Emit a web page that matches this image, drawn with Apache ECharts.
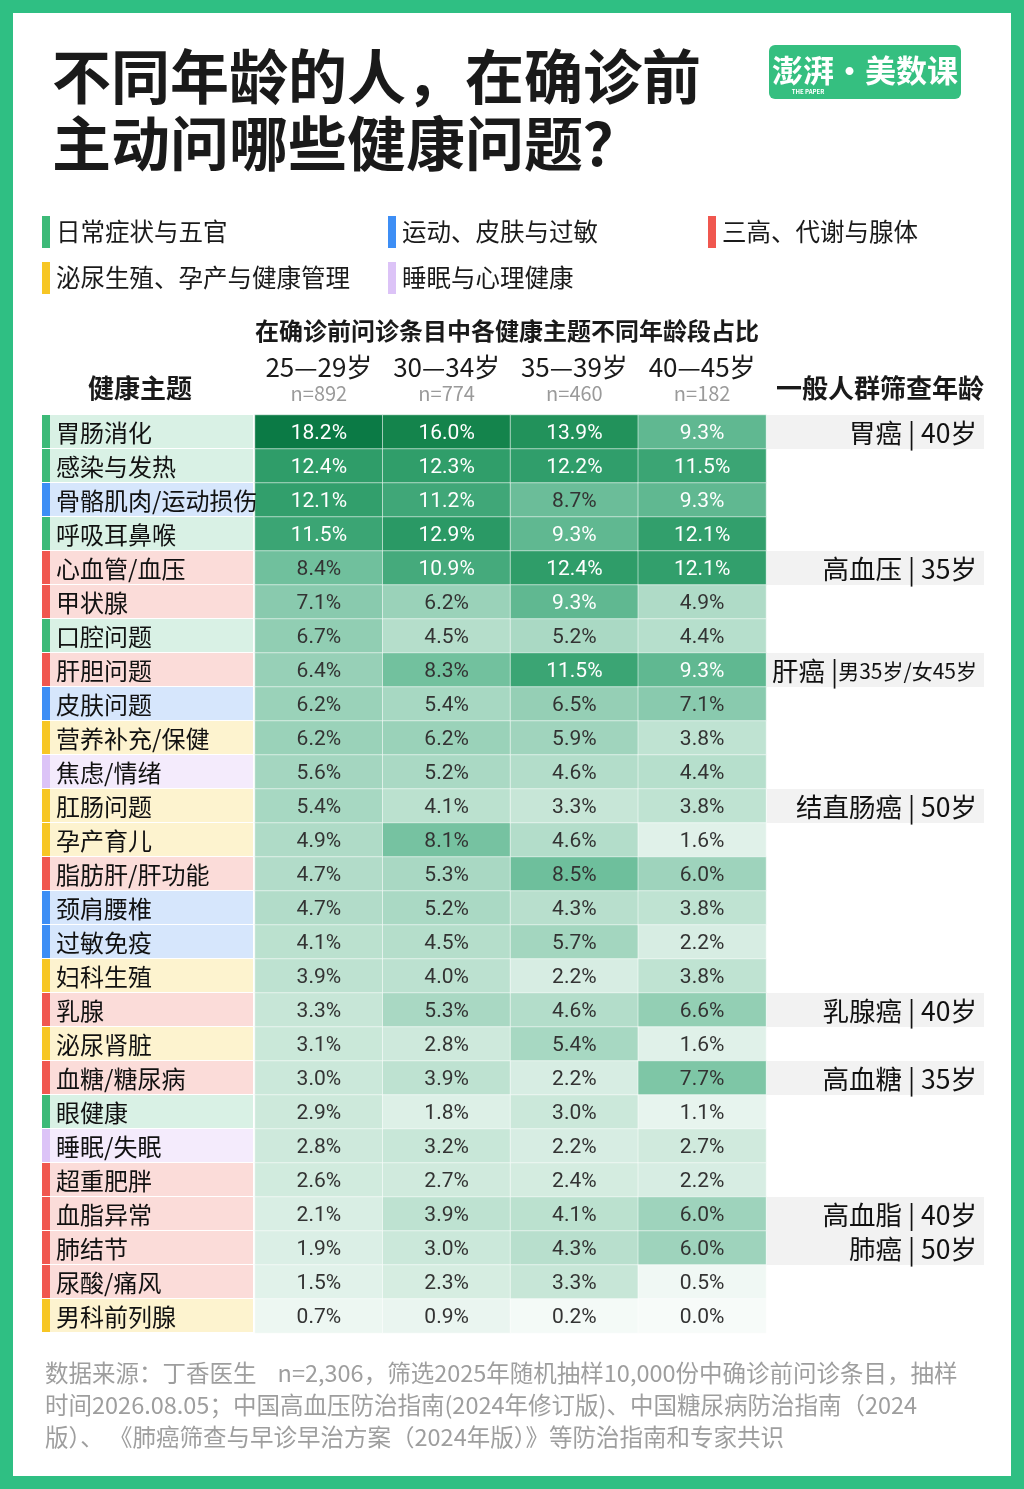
<!DOCTYPE html>
<html><head><meta charset="utf-8">
<script src="https://cdn.jsdelivr.net/npm/echarts@6/dist/echarts.min.js"></script>
<style>html,body{margin:0;padding:0;background:#fff}#c{width:1024px;height:1489px}</style>
</head><body><div id="c"></div>
<script>
const ages = ['25—29岁', '30—34岁', '35—39岁', '40—45岁'];
const sampleN = ['n=892', 'n=774', 'n=460', 'n=182'];
const topics = ['胃肠消化','感染与发热','骨骼肌肉/运动损伤','呼吸耳鼻喉','心血管/血压','甲状腺','口腔问题','肝胆问题','皮肤问题','营养补充/保健','焦虑/情绪','肛肠问题','孕产育儿','脂肪肝/肝功能','颈肩腰椎','过敏免疫','妇科生殖','乳腺','泌尿肾脏','血糖/糖尿病','眼健康','睡眠/失眠','超重肥胖','血脂异常','肺结节','尿酸/痛风','男科前列腺'];
const topicGroup = [0,0,1,0,2,2,0,2,1,3,4,3,3,2,1,1,3,2,3,2,0,4,2,2,2,2,3];
const groupNames = ['日常症状与五官','运动、皮肤与过敏','三高、代谢与腺体','泌尿生殖、孕产与健康管理','睡眠与心理健康'];
const age25 = [18.2,12.4,12.1,11.5,8.4,7.1,6.7,6.4,6.2,6.2,5.6,5.4,4.9,4.7,4.7,4.1,3.9,3.3,3.1,3.0,2.9,2.8,2.6,2.1,1.9,1.5,0.7];
const age30 = [16.0,12.3,11.2,12.9,10.9,6.2,4.5,8.3,5.4,6.2,5.2,4.1,8.1,5.3,5.2,4.5,4.0,5.3,2.8,3.9,1.8,3.2,2.7,3.9,3.0,2.3,0.9];
const age35 = [13.9,12.2,8.7,9.3,12.4,9.3,5.2,11.5,6.5,5.9,4.6,3.3,4.6,8.5,4.3,5.7,2.2,4.6,5.4,2.2,3.0,2.2,2.4,4.1,4.3,3.3,0.2];
const age40 = [9.3,11.5,9.3,12.1,12.1,4.9,4.4,9.3,7.1,3.8,4.4,3.8,1.6,6.0,3.8,2.2,3.8,6.6,1.6,7.7,1.1,2.7,2.2,6.0,6.0,0.5,0.0];
const screeningNotes = ['胃癌 | 40岁','','','','高血压 | 35岁','','','肝癌 |男35岁/女45岁','','','','结直肠癌 | 50岁','','','','','','乳腺癌 | 40岁','','高血糖 | 35岁','','','','高血脂 | 40岁','肺癌 | 50岁','',''];
const footerLines = ['数据来源：丁香医生    n=2,306，筛选2025年随机抽样10,000份中确诊前问诊条目，抽样','时间2026.08.05；中国高血压防治指南(2024年修订版)、中国糖尿病防治指南（2024','版）、 《肺癌筛查与早诊早治方案（2024年版）》等防治指南和专家共识'];

const FONT = '"Noto Sans CJK SC", "Noto Sans", sans-serif';
const stripColors = ['#3dba78','#3d8ef5','#f0574f','#f7c624','#dcc3f7'];
const paleColors = ['#d9f1e5','#d6e6fc','#fbdcd9','#fdf3cf','#f4ebfc'];
const GREEN = '#2fbf83';

const cols = [age25, age30, age35, age40];
const heatData = [];
cols.forEach((arr, x) => arr.forEach((v, y) => {
  heatData.push({value: [x, y, v], label: {color: v >= 9 ? '#ffffff' : '#333333'}});
}));

const legendPos = [[42,232],[388,232],[708,232],[42,278],[388,278]];
const graphics = [
  {type:'rect', z:-10, shape:{x:0,y:0,width:1024,height:1489}, style:{fill:'#fff', stroke:GREEN, lineWidth:26}},
  {type:'rect', shape:{x:769,y:45,width:192,height:54,r:6}, style:{fill:'#35bf80'}},
  {type:'text', style:{x:865,y:70,text:'澎湃·美数课',align:'center',verticalAlign:'middle',fill:'#fff',font:'bold 31px '+FONT}},
  {type:'text', style:{x:808,y:92,text:'THE PAPER',align:'center',verticalAlign:'middle',fill:'#fff',font:'bold 6px '+FONT}},
  {type:'text', style:{x:507,y:331,text:'在确诊前问诊条目中各健康主题不同年龄段占比',align:'center',verticalAlign:'middle',fill:'#1a1a1a',font:'bold 24px '+FONT}},
  {type:'text', style:{x:140,y:388,text:'健康主题',align:'center',verticalAlign:'middle',fill:'#1a1a1a',font:'bold 26px '+FONT}},
  {type:'text', style:{x:880,y:388,text:'一般人群筛查年龄',align:'center',verticalAlign:'middle',fill:'#1a1a1a',font:'bold 26px '+FONT}},
  {type:'text', style:{x:45,y:1357,text:footerLines.join('\n'),lineHeight:32,fill:'#9e9e9e',font:'23.5px '+FONT}}
];
groupNames.forEach((g, i) => {
  const [x, y] = legendPos[i];
  graphics.push({type:'rect', shape:{x:x,y:y-16,width:8,height:32}, style:{fill:stripColors[i]}});
  graphics.push({type:'text', style:{x:x+14,y:y,text:g,verticalAlign:'middle',fill:'#1a1a1a',font:'24.5px '+FONT}});
});

const chart = echarts.init(document.getElementById('c'));
chart.setOption({
  animation: false,
  backgroundColor: '#fff',
  title: {
    text: '不同年龄的人，在确诊前\n主动问哪些健康问题？',
    left: 47, top: 38,
    textStyle: {fontSize: 59, lineHeight: 67, fontWeight: 'bold', color: '#1a1a1a', fontFamily: FONT}
  },
  graphic: graphics,
  grid: [
    {left: 255, top: 415, width: 511, height: 918},
    {left: 42, top: 415, width: 211, height: 918},
    {left: 767, top: 415, width: 217, height: 918}
  ],
  xAxis: [
    {type:'category', gridIndex:0, data: ages, position:'top',
     axisLine:{show:false}, axisTick:{show:false}, splitLine:{show:false},
     axisLabel:{margin:10, formatter:(v, i) => '{a|' + v + '}\n{b|' + sampleN[i] + '}',
       rich:{a:{fontSize:26,lineHeight:28,color:'#1a1a1a',fontFamily:FONT}, b:{fontSize:20,lineHeight:24,color:'#9a9a9a',fontFamily:FONT}}}},
    {type:'value', gridIndex:1, min:0, max:1, show:false},
    {type:'value', gridIndex:2, min:0, max:1, show:false}
  ],
  yAxis: [
    {type:'category', gridIndex:0, data: topics, inverse:true, show:false},
    {type:'category', gridIndex:1, data: topics, inverse:true, show:false},
    {type:'category', gridIndex:2, data: topics, inverse:true, show:false}
  ],
  visualMap: {
    show:false, type:'continuous', min:0, max:18.2, dimension:2, seriesIndex:0,
    inRange:{color:['#f7fbf9','#cbe8da','#9dd3bb','#63ba94','#319f6c','#17884f','#0b7a45']}
  },
  series: [
    {type:'heatmap', xAxisIndex:0, yAxisIndex:0, data: heatData,
     itemStyle:{borderColor:'rgba(255,255,255,0.55)', borderWidth:1},
     label:{show:true, fontSize:21, offset:[0,2], fontFamily:'Roboto, "Noto Sans", sans-serif', formatter: p => p.value[2].toFixed(1) + '%'}},
    {type:'custom', xAxisIndex:1, yAxisIndex:1, data: topics.map((t, i) => [0, i, topicGroup[i]]),
     renderItem: (params, api) => {
       const i = api.value(1), g = api.value(2);
       const c = api.coord([0, i]);
       const h = api.size([0, 1])[1];
       const cs = params.coordSys;
       const top = c[1] - h / 2;
       return {type:'group', children:[
         {type:'rect', shape:{x:cs.x, y:top, width:8, height:h-1}, style:{fill:stripColors[g]}},
         {type:'rect', shape:{x:cs.x+8, y:top, width:cs.width-8, height:h-1}, style:{fill:paleColors[g]}},
         {type:'text', style:{x:cs.x+14, y:c[1]+1, text:topics[i], verticalAlign:'middle', fill:'#111', font:'24px '+FONT}}
       ]};
     }},
    {type:'custom', xAxisIndex:2, yAxisIndex:2,
     data: screeningNotes.map((n, i) => [0, i]).filter((d, i) => screeningNotes[i] !== ''),
     renderItem: (params, api) => {
       const i = api.value(1);
       const c = api.coord([0, i]);
       const h = api.size([0, 1])[1];
       const cs = params.coordSys;
       const note = screeningNotes[i];
       const parts = note.split('|');
       const long = note.length > 12;
       return {type:'group', children:[
         {type:'rect', shape:{x:cs.x, y:c[1]-h/2, width:cs.width, height:h}, style:{fill:'#f2f2f2'}},
         {type:'text', style:{x:cs.x+cs.width-7, y:c[1]+1, align:'right', verticalAlign:'middle',
           text: '{a|' + parts[0] + '|}{' + (long ? 'b' : 'a') + '|' + parts[1] + '}',
           rich:{a:{fontSize:26.5, fontFamily:FONT, fill:'#111'}, b:{fontSize:21, fontFamily:FONT, fill:'#111'}}}}
       ]};
     }}
  ]
});
</script></body></html>
